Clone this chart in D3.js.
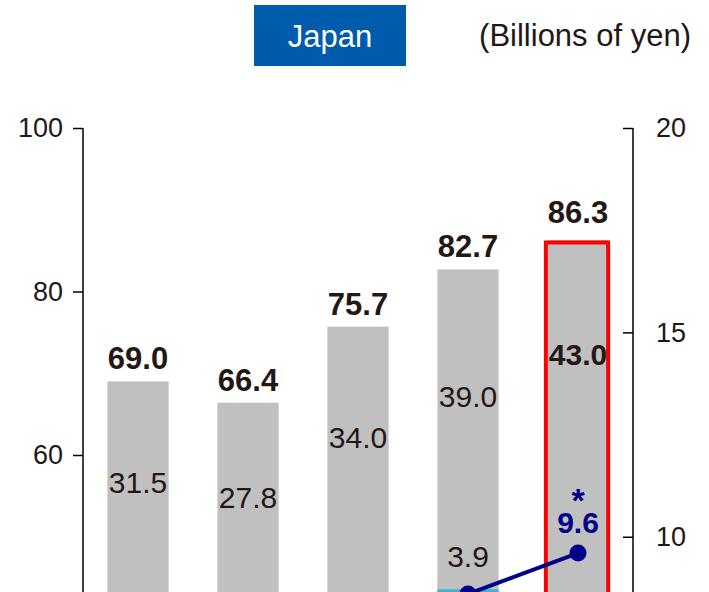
<!DOCTYPE html>
<html>
<head>
<meta charset="utf-8">
<script src="https://cdn.jsdelivr.net/npm/d3@7"></script>
<style>
  body { margin: 0; background: #fff; }
  text { font-family: "Liberation Sans", Arial, sans-serif; fill: #231815; }
</style>
</head>
<body>
<script>
// data (lower part of the chart is cut off)
var years = ["FY1", "FY2", "FY3", "FY4", "FY5"];
var totals = [69.0, 66.4, 75.7, 82.7, 86.3];
var upperPart = [31.5, 27.8, 34.0, 39.0, 43.0];
var upperLabelAt = [55.4, 53.5, 60.9, 65.9, 71.0];   // label anchors, left-axis units
var cyanPart = [null, null, null, 3.9, null];
var lineValues = [null, null, null, 8.6, 9.6];       // right axis
var leftTicks = [60, 80, 100];
var rightTicks = [10, 15, 20];

var width = 709, height = 592;
var svg = d3.select("body").append("svg")
    .attr("width", width)
    .attr("height", height);

// scales (plot bottom is below the visible window)
var x = d3.scaleBand().domain(years).range([83, 633])
    .paddingInner(0.443).paddingOuter(0.2215);
var yL = d3.scaleLinear().domain([0, 100]).range([945.5, 128]);
var yR = d3.scaleLinear().domain([0, 20]).range([945.5, 128]);

// bars
var bars = years.map(function(d, i) {
  return {year: d, total: totals[i], upper: upperPart[i], at: upperLabelAt[i], cyan: cyanPart[i]};
});

svg.selectAll(".bar").data(bars).enter().append("rect")
    .attr("class", "bar")
    .attr("x", function(d) { return x(d.year); })
    .attr("width", x.bandwidth())
    .attr("y", function(d) { return yL(d.total); })
    .attr("height", function(d) { return yL(0) - yL(d.total); })
    .attr("fill", "#c0c0c0");

// cyan segment under the upper part
var cyanBars = bars.filter(function(d) { return d.cyan != null; });
svg.selectAll(".cyan").data(cyanBars).enter().append("rect")
    .attr("class", "cyan")
    .attr("x", function(d) { return x(d.year); })
    .attr("width", x.bandwidth())
    .attr("y", function(d) { return yL(d.total - d.upper) + 1; })
    .attr("height", function(d) { return yL(d.total - d.upper - d.cyan) - yL(d.total - d.upper); })
    .attr("fill", "#3fb3c8");

svg.selectAll(".cyanlbl").data(cyanBars).enter().append("text")
    .attr("x", function(d) { return x(d.year) + x.bandwidth() / 2; })
    .attr("y", function(d) { return yL(d.total - d.upper) - 21; })
    .attr("text-anchor", "middle")
    .style("font-size", "30px")
    .text(function(d) { return d.cyan.toFixed(1); });

// highlight last bar
var last = bars[bars.length - 1];
svg.append("rect")
    .attr("x", x(last.year) - 1.5)
    .attr("y", yL(last.total) + 2.5)
    .attr("width", x.bandwidth() + 1)
    .attr("height", yL(0) - yL(last.total))
    .attr("fill", "none")
    .attr("stroke", "#ff0000")
    .attr("stroke-width", 4);

// totals on top
svg.selectAll(".total").data(bars).enter().append("text")
    .attr("x", function(d) { return x(d.year) + x.bandwidth() / 2; })
    .attr("y", function(d, i) { return yL(d.total) - (i === bars.length - 1 ? 17 : 12); })
    .attr("text-anchor", "middle")
    .style("font-size", "31px")
    .style("font-weight", "bold")
    .text(function(d) { return d.total.toFixed(1); });

// upper part labels
svg.selectAll(".upper").data(bars).enter().append("text")
    .attr("x", function(d) { return x(d.year) + x.bandwidth() / 2; })
    .attr("y", function(d) { return yL(d.at); })
    .attr("text-anchor", "middle")
    .style("font-size", "30px")
    .style("font-weight", function(d, i) { return i === bars.length - 1 ? "bold" : "normal"; })
    .text(function(d) { return d.upper.toFixed(1); });

// line on right axis
var pts = years.map(function(d, i) { return {year: d, v: lineValues[i]}; })
    .filter(function(d) { return d.v != null; });
var line = d3.line()
    .x(function(d) { return x(d.year) + x.bandwidth() / 2; })
    .y(function(d) { return yR(d.v); });

svg.append("path")
    .datum(pts)
    .attr("d", line)
    .attr("fill", "none")
    .attr("stroke", "#000088")
    .attr("stroke-width", 4);

svg.selectAll(".dot").data(pts).enter().append("circle")
    .attr("cx", function(d) { return x(d.year) + x.bandwidth() / 2; })
    .attr("cy", function(d) { return yR(d.v); })
    .attr("r", 8.5)
    .attr("fill", "#000088");

// last point label: asterisk on top, value below (one text element)
var lastPt = pts[pts.length - 1];
var cx = x(lastPt.year) + x.bandwidth() / 2;
var lbl = svg.append("text")
    .attr("text-anchor", "middle")
    .style("font-weight", "bold")
    .style("fill", "#000088");
lbl.append("tspan")
    .attr("x", cx)
    .attr("y", yR(lastPt.v) - 41)
    .style("font-size", "34px")
    .text("*");
lbl.append("tspan")
    .attr("x", cx)
    .attr("y", yR(lastPt.v) - 20)
    .style("font-size", "30px")
    .text(lastPt.v.toFixed(1));

// axes
var axL = svg.append("g")
    .attr("transform", "translate(83,0)")
    .call(d3.axisLeft(yL).tickValues(leftTicks).tickSize(10).tickSizeOuter(0).tickPadding(10));
var axR = svg.append("g")
    .attr("transform", "translate(633,0)")
    .call(d3.axisRight(yR).tickValues(rightTicks).tickSize(-10).tickSizeOuter(0).tickPadding(23));

// stretch the axis lines down past the visible window
axL.select(".domain").attr("d", "M0," + yL(100) + "V" + yL(0));
axR.select(".domain").attr("d", "M0," + yR(20) + "V" + yR(0));

[axL, axR].forEach(function(ax) {
  ax.select(".domain").attr("stroke", "#000").attr("stroke-width", 1.5);
  ax.selectAll(".tick line").attr("stroke", "#000").attr("stroke-width", 1.5);
  ax.selectAll(".tick text")
      .style("font-family", "'Liberation Sans', Arial, sans-serif")
      .style("font-size", "27px")
      .attr("fill", "#231815");
});

// header
svg.append("rect")
    .attr("x", 254).attr("y", 5)
    .attr("width", 152).attr("height", 61)
    .attr("fill", "#005bac");
svg.append("text")
    .attr("x", 330).attr("y", 47)
    .attr("text-anchor", "middle")
    .style("font-size", "31px")
    .style("fill", "#fff")
    .text("Japan");
svg.append("text")
    .attr("x", 691).attr("y", 46)
    .attr("text-anchor", "end")
    .style("font-size", "31px")
    .text("(Billions of yen)");
</script>
</body>
</html>
